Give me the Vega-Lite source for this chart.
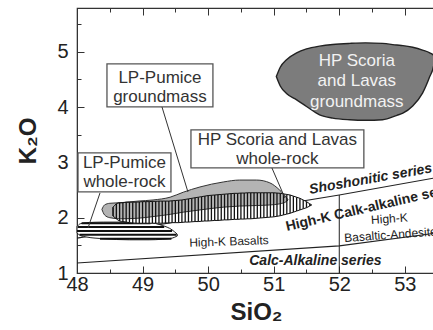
{
  "$schema": "https://vega.github.io/schema/vega-lite/v6.json",
  "width": 358,
  "height": 265,
  "autosize": "none",
  "padding": {"left": 77, "top": 8, "right": 0, "bottom": 57},
  "background": "white",
  "config": {
    "view": {"stroke": "#333", "strokeWidth": 1.2},
    "axis": {"grid": false, "labelFont": "Liberation Sans", "titleFont": "Liberation Sans", "labelColor": "#222", "titleColor": "#222", "domainColor": "#333", "tickColor": "#333", "tickWidth": 1, "labelOverlap": false, "labelFlush": false}
  },
  "datasets": {
    "bnd": [
      {"id": "ca", "o": 1, "x": 48, "y": 1.18}, {"id": "ca", "o": 2, "x": 52, "y": 1.49}, {"id": "ca", "o": 3, "x": 53.46, "y": 1.72},
      {"id": "sh", "o": 1, "x": 48, "y": 1.63}, {"id": "sh", "o": 2, "x": 52, "y": 2.41}, {"id": "sh", "o": 3, "x": 53.46, "y": 2.72}
    ],
    "seg": [
      {"x": 52, "y": 1, "x2": 52, "y2": 2.41}
    ],
    "leaders": [
      {"x": 49.296, "y": 4.002, "x2": 49.692, "y2": 2.465},
      {"x": 48.351, "y": 2.447, "x2": 48.168, "y2": 1.814},
      {"x": 50.973, "y": 2.899, "x2": 51.171, "y2": 2.356}
    ],
    "lpw": [
      {"x": 48.0, "y": 1.84, "y2": 1.72}, {"x": 48.05, "y": 1.89, "y2": 1.68}, {"x": 48.15, "y": 1.91, "y2": 1.65},
      {"x": 48.4, "y": 1.92, "y2": 1.62}, {"x": 48.8, "y": 1.92, "y2": 1.6}, {"x": 49.1, "y": 1.91, "y2": 1.6},
      {"x": 49.3, "y": 1.86, "y2": 1.61}, {"x": 49.45, "y": 1.78, "y2": 1.63}, {"x": 49.53, "y": 1.7, "y2": 1.67}
    ],
    "lpwStripes": [
      {"y": 1.9, "x": 48.07, "x2": 49.12}, {"y": 1.83, "x": 48.01, "x2": 49.33}, {"y": 1.76, "x": 48.0, "x2": 49.45},
      {"y": 1.69, "x": 48.04, "x2": 49.52}, {"y": 1.62, "x": 48.35, "x2": 49.44}
    ],
    "lpg": [
      {"x": 48.38, "y": 2.15, "y2": 2.15}, {"x": 48.42, "y": 2.23, "y2": 2.05}, {"x": 48.5, "y": 2.26, "y2": 2.0},
      {"x": 48.66, "y": 2.27, "y2": 1.98}, {"x": 48.93, "y": 2.3, "y2": 1.99}, {"x": 49.16, "y": 2.32, "y2": 2.02},
      {"x": 49.42, "y": 2.37, "y2": 2.06}, {"x": 49.62, "y": 2.46, "y2": 2.1}, {"x": 49.875, "y": 2.555, "y2": 2.14},
      {"x": 50.23, "y": 2.645, "y2": 2.19}, {"x": 50.48, "y": 2.68, "y2": 2.21}, {"x": 50.74, "y": 2.68, "y2": 2.22},
      {"x": 50.94, "y": 2.63, "y2": 2.23}, {"x": 51.09, "y": 2.5, "y2": 2.25}, {"x": 51.19, "y": 2.37, "y2": 2.29},
      {"x": 51.22, "y": 2.32, "y2": 2.32}
    ],
    "hpw": [
      {"x": 48.55, "y": 2.19, "y2": 2.03}, {"x": 48.6, "y": 2.25, "y2": 1.98}, {"x": 48.65, "y": 2.27, "y2": 1.94},
      {"x": 48.7, "y": 2.27, "y2": 1.93}, {"x": 48.75, "y": 2.28, "y2": 1.92}, {"x": 48.8, "y": 2.28, "y2": 1.91},
      {"x": 48.85, "y": 2.28, "y2": 1.905}, {"x": 48.9, "y": 2.28, "y2": 1.9}, {"x": 48.95, "y": 2.285, "y2": 1.9},
      {"x": 49.0, "y": 2.29, "y2": 1.9}, {"x": 49.05, "y": 2.29, "y2": 1.9}, {"x": 49.1, "y": 2.29, "y2": 1.9},
      {"x": 49.15, "y": 2.295, "y2": 1.9}, {"x": 49.2, "y": 2.295, "y2": 1.9}, {"x": 49.25, "y": 2.3, "y2": 1.9},
      {"x": 49.3, "y": 2.3, "y2": 1.9}, {"x": 49.35, "y": 2.3, "y2": 1.905}, {"x": 49.4, "y": 2.3, "y2": 1.905},
      {"x": 49.45, "y": 2.305, "y2": 1.91}, {"x": 49.5, "y": 2.31, "y2": 1.91}, {"x": 49.55, "y": 2.315, "y2": 1.91},
      {"x": 49.6, "y": 2.32, "y2": 1.915}, {"x": 49.65, "y": 2.33, "y2": 1.92}, {"x": 49.7, "y": 2.34, "y2": 1.92},
      {"x": 49.75, "y": 2.35, "y2": 1.925}, {"x": 49.8, "y": 2.36, "y2": 1.93}, {"x": 49.85, "y": 2.37, "y2": 1.93},
      {"x": 49.9, "y": 2.38, "y2": 1.935}, {"x": 49.95, "y": 2.39, "y2": 1.94}, {"x": 50.0, "y": 2.4, "y2": 1.94},
      {"x": 50.05, "y": 2.405, "y2": 1.945}, {"x": 50.1, "y": 2.41, "y2": 1.95}, {"x": 50.15, "y": 2.415, "y2": 1.95},
      {"x": 50.2, "y": 2.42, "y2": 1.955}, {"x": 50.25, "y": 2.425, "y2": 1.96}, {"x": 50.3, "y": 2.43, "y2": 1.96},
      {"x": 50.35, "y": 2.435, "y2": 1.965}, {"x": 50.4, "y": 2.44, "y2": 1.97}, {"x": 50.45, "y": 2.44, "y2": 1.97},
      {"x": 50.5, "y": 2.445, "y2": 1.975}, {"x": 50.55, "y": 2.445, "y2": 1.975}, {"x": 50.6, "y": 2.45, "y2": 1.98},
      {"x": 50.65, "y": 2.45, "y2": 1.98}, {"x": 50.7, "y": 2.45, "y2": 1.985}, {"x": 50.75, "y": 2.45, "y2": 1.99},
      {"x": 50.8, "y": 2.45, "y2": 1.995}, {"x": 50.85, "y": 2.45, "y2": 2.0}, {"x": 50.9, "y": 2.45, "y2": 2.005},
      {"x": 50.95, "y": 2.45, "y2": 2.01}, {"x": 51.0, "y": 2.45, "y2": 2.015}, {"x": 51.05, "y": 2.445, "y2": 2.025},
      {"x": 51.1, "y": 2.44, "y2": 2.035}, {"x": 51.15, "y": 2.43, "y2": 2.05}, {"x": 51.2, "y": 2.42, "y2": 2.065},
      {"x": 51.25, "y": 2.41, "y2": 2.08}, {"x": 51.3, "y": 2.39, "y2": 2.1}, {"x": 51.35, "y": 2.37, "y2": 2.12},
      {"x": 51.4, "y": 2.35, "y2": 2.14}, {"x": 51.45, "y": 2.32, "y2": 2.16}, {"x": 51.5, "y": 2.29, "y2": 2.18},
      {"x": 51.55, "y": 2.25, "y2": 2.21}, {"x": 51.58, "y": 2.23, "y2": 2.23}
    ],
    "hpg": [
      {"x": 51.04, "y": 4.55, "y2": 4.55}, {"x": 51.1, "y": 4.72, "y2": 4.38}, {"x": 51.2, "y": 4.86, "y2": 4.24},
      {"x": 51.35, "y": 4.98, "y2": 4.13}, {"x": 51.5, "y": 5.05, "y2": 4.01}, {"x": 51.7, "y": 5.1, "y2": 3.86},
      {"x": 51.9, "y": 5.13, "y2": 3.8}, {"x": 52.16, "y": 5.15, "y2": 3.77}, {"x": 52.4, "y": 5.16, "y2": 3.76},
      {"x": 52.66, "y": 5.15, "y2": 3.77}, {"x": 52.88, "y": 5.12, "y2": 3.85}, {"x": 52.97, "y": 5.11, "y2": 3.89},
      {"x": 53.12, "y": 5.08, "y2": 4.02}, {"x": 53.27, "y": 5.03, "y2": 4.25}, {"x": 53.38, "y": 4.98, "y2": 4.55},
      {"x": 53.44, "y": 4.93, "y2": 4.75}, {"x": 53.455, "y": 4.86, "y2": 4.86}
    ],
    "boxes": [
      {"x": 48.457, "x2": 50.073, "y": 4.779, "y2": 4.002},
      {"x": 48.015, "x2": 49.433, "y": 3.17, "y2": 2.465},
      {"x": 49.738, "x2": 52.375, "y": 3.586, "y2": 2.899}
    ],
    "boxText": [
      {"x": 49.265, "y": 4.526, "t": "LP-Pumice\ngroundmass"},
      {"x": 48.724, "y": 2.989, "t": "LP-Pumice\nwhole-rock"},
      {"x": 51.056, "y": 3.405, "t": "HP Scoria and Lavas\nwhole-rock"}
    ]
  },
  "layer": [
    {
      "encoding": {
        "x": {"field": "x", "type": "quantitative", "title": "SiO₂",
          "scale": {"domain": [48, 53.46], "nice": false, "zero": false},
          "axis": {"values": [48, 48.5, 49, 49.5, 50, 50.5, 51, 51.5, 52, 52.5, 53],
            "labelExpr": "datum.value % 1 === 0 ? '' + datum.value : ''",
            "tickSize": {"condition": {"test": "datum.value % 1 === 0", "value": -7}, "value": -4},
            "labelFontSize": 20, "labelPadding": 8, "titleFontSize": 24, "titleFontWeight": "bold",
            "titlePadding": 3}},
        "y": {"field": "y", "type": "quantitative", "title": "K₂O",
          "scale": {"domain": [1, 5.79], "nice": false, "zero": false},
          "axis": {"values": [1, 1.5, 2, 2.5, 3, 3.5, 4, 4.5, 5, 5.5],
            "labelExpr": "datum.value % 1 === 0 ? '' + datum.value : ''",
            "tickSize": {"condition": {"test": "datum.value % 1 === 0", "value": -7}, "value": -4},
            "labelFontSize": 20, "labelPadding": 16, "titleFontSize": 24, "titleFontWeight": "bold",
            "titleBaseline": "middle", "titleX": -49}}
      },
      "layer": [
        {"data": {"name": "bnd"}, "mark": {"type": "line", "color": "#222", "strokeWidth": 1.1},
         "encoding": {"detail": {"field": "id"}, "order": {"field": "o", "type": "quantitative"}}},
        {"data": {"name": "seg"}, "mark": {"type": "rule", "color": "#222", "strokeWidth": 1},
         "encoding": {"x2": {"field": "x2"}, "y2": {"field": "y2"}}},
        {"data": {"name": "lpw"}, "mark": {"type": "area", "interpolate": "monotone", "fill": "white", "stroke": "#222", "strokeWidth": 1},
         "encoding": {"y2": {"field": "y2"}}},
        {"data": {"name": "lpwStripes"}, "mark": {"type": "rule", "color": "#111", "strokeWidth": 2},
         "encoding": {"x2": {"field": "x2"}}},
        {"data": {"name": "hpw"}, "mark": {"type": "area", "interpolate": "monotone", "fill": "white"},
         "encoding": {"y2": {"field": "y2"}}},
        {"data": {"name": "lpg"}, "mark": {"type": "area", "interpolate": "monotone", "fill": "#b4b4b4", "stroke": "#333", "strokeWidth": 1},
         "encoding": {"y2": {"field": "y2"}}},
        {"data": {"name": "hpw"}, "mark": {"type": "rule", "color": "#111", "strokeWidth": 1.3},
         "encoding": {"y2": {"field": "y2"}}},
        {"data": {"name": "hpw"}, "mark": {"type": "area", "interpolate": "monotone", "fill": null, "fillOpacity": 0, "stroke": "#111", "strokeWidth": 1},
         "encoding": {"y2": {"field": "y2"}}},
        {"data": {"name": "hpg"}, "mark": {"type": "area", "interpolate": "monotone", "fill": "#7c7c7c", "stroke": "#222", "strokeWidth": 1.4},
         "encoding": {"y2": {"field": "y2"}}},
        {"data": {"name": "boxes"}, "mark": {"type": "rect", "fill": "white", "stroke": "#555", "strokeWidth": 1.3},
         "encoding": {"x2": {"field": "x2"}, "y2": {"field": "y2"}}},
        {"data": {"name": "leaders"}, "mark": {"type": "rule", "color": "#333", "strokeWidth": 1},
         "encoding": {"x2": {"field": "x2"}, "y2": {"field": "y2"}}},
        {"data": {"name": "boxText"}, "mark": {"type": "text", "font": "Liberation Sans", "fontSize": 17, "color": "#333", "align": "center", "baseline": "middle", "lineBreak": "\n", "lineHeight": 19},
         "encoding": {"text": {"field": "t"}}},
        {"data": {"values": [{"x": 52.268, "y": 4.834, "t": "HP Scoria\nand Lavas\ngroundmass"}]},
         "mark": {"type": "text", "font": "Liberation Sans", "fontSize": 17, "color": "#f2f2f2", "align": "center", "baseline": "middle", "lineBreak": "\n", "lineHeight": 20.5},
         "encoding": {"text": {"field": "t"}}},
        {"data": {"values": [{"x": 51.555, "y": 2.43, "t": "Shoshonitic series"}]},
         "mark": {"type": "text", "font": "Liberation Sans", "fontSize": 14, "fontWeight": "bold", "fontStyle": "italic", "color": "#222", "align": "left", "baseline": "alphabetic", "angle": -10},
         "encoding": {"text": {"field": "t"}}},
        {"data": {"values": [{"x": 51.201, "y": 1.759, "t": "High-K Calk-alkaline series"}]},
         "mark": {"type": "text", "font": "Liberation Sans", "fontSize": 14, "fontWeight": "bold", "color": "#222", "align": "left", "baseline": "alphabetic", "angle": -13},
         "encoding": {"text": {"field": "t"}}},
        {"data": {"values": [{"x": 51.636, "y": 1.217, "t": "Calc-Alkaline series"}]},
         "mark": {"type": "text", "font": "Liberation Sans", "fontSize": 14, "fontWeight": "bold", "fontStyle": "italic", "color": "#222", "align": "center", "baseline": "middle"},
         "encoding": {"text": {"field": "t"}}},
        {"data": {"values": [{"x": 50.317, "y": 1.57, "t": "High-K Basalts"}]},
         "mark": {"type": "text", "font": "Liberation Sans", "fontSize": 12, "color": "#222", "align": "center", "baseline": "middle", "angle": -2},
         "encoding": {"text": {"field": "t"}}},
        {"data": {"values": [{"x": 52.764, "y": 1.98, "t": "High-K\nBasaltic-Andesite"}]},
         "mark": {"type": "text", "font": "Liberation Sans", "fontSize": 12, "color": "#222", "align": "center", "baseline": "middle", "angle": -4, "lineBreak": "\n", "lineHeight": 16},
         "encoding": {"text": {"field": "t"}}}
      ]
    },
    {
      "data": {"values": [{"x": 50}]},
      "mark": {"type": "tick", "opacity": 0},
      "encoding": {
        "x": {"field": "x", "type": "quantitative", "title": null,
          "scale": {"domain": [48, 53.46], "nice": false, "zero": false},
          "axis": {"orient": "top", "labels": false, "domain": false, "title": null,
            "values": [48, 48.5, 49, 49.5, 50, 50.5, 51, 51.5, 52, 52.5, 53],
            "tickSize": {"condition": {"test": "datum.value % 1 === 0", "value": -7}, "value": -4}}}
      }
    }
  ],
  "resolve": {"axis": {"x": "independent"}}
}
